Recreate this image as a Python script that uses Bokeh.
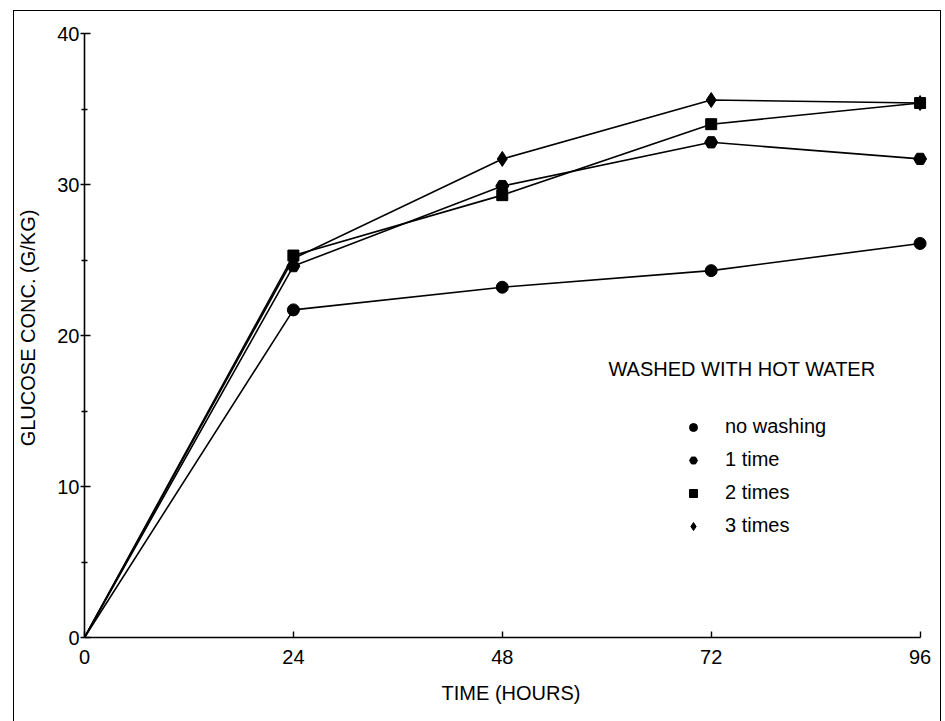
from bokeh.plotting import figure
from bokeh.models import Range1d, FixedTicker, Legend, LegendItem, Label, InlineStyleSheet
from bokeh.embed import file_html
from bokeh.resources import INLINE

# ---- data ----
hours = [0, 24, 48, 72, 96]
no_washing = [0, 21.7, 23.2, 24.3, 26.1]
one_time = [0, 24.6, 29.9, 32.8, 31.7]
two_times = [0, 25.3, 29.3, 34.0, 35.4]
three_times = [0, 25.1, 31.7, 35.6, 35.4]

series_names = ["no washing", "1 time", "2 times", "3 times"]
x_ticks = [0, 24, 48, 72, 96]
y_ticks = [0, 10, 20, 30, 40]

FONT = "Liberation Sans, Arial, sans-serif"

frame_css = InlineStyleSheet(css="""
:host { position: relative; }
:host::after {
  content: "";
  position: absolute;
  left: 13px; top: 10px; right: 4px; bottom: -20px;
  border: 1.5px solid black;
  pointer-events: none;
}
""")

p = figure(width=945, height=721, output_backend="svg", toolbar_location=None,
           x_range=Range1d(0, 98), y_range=Range1d(0, 41),
           min_border_left=84, min_border_right=8, min_border_top=18, min_border_bottom=84)
p.stylesheets = [frame_css]
p.outline_line_color = None
p.grid.visible = False
p.background_fill_color = "white"
p.border_fill_color = "white"

# axes
xa = p.xaxis[0]
xa.ticker = FixedTicker(ticks=x_ticks)
xa.bounds = (0, 96)
xa.axis_label = "TIME (HOURS)"
xa.major_tick_in = 6
xa.major_tick_out = 0
xa.minor_tick_line_color = None
xa.major_label_standoff = 12

ya = p.yaxis[0]
ya.ticker = FixedTicker(ticks=y_ticks, minor_ticks=[5, 15, 25, 35])
ya.bounds = (0, 40)
ya.axis_label = "GLUCOSE CONC. (G/KG)"
ya.major_tick_in = 6
ya.major_tick_out = 4
ya.minor_tick_in = 3
ya.minor_tick_out = 3
ya.major_label_standoff = 1

for ax in (xa, ya):
    ax.axis_line_color = "black"
    ax.axis_line_width = 1.6
    ax.major_tick_line_width = 1.4
    ax.minor_tick_line_width = 1.4
    ax.major_label_text_font = FONT
    ax.major_label_text_font_size = "20px"
    ax.major_label_text_color = "black"
    ax.axis_label_text_font = FONT
    ax.axis_label_text_font_size = "20px"
    ax.axis_label_text_font_style = "normal"
    ax.axis_label_text_color = "black"
    ax.axis_label_standoff = 15

# series
specs = [
    (no_washing, "circle", 12),
    (one_time, "hex", 13),
    (two_times, "square", 11),
    (three_times, "diamond", 15),
]
items = []
for name, (vals, marker, size) in zip(series_names, specs):
    p.line(hours, vals, line_color="black", line_width=1.6)
    r = p.scatter(hours[1:], vals[1:], marker=marker, size=size,
                  fill_color="black", line_color="black")
    items.append(LegendItem(label=name, renderers=[r], index=0))

legend = Legend(items=items, location=(599, 100), orientation="vertical",
                glyph_width=20, glyph_height=20, label_height=20, spacing=10,
                label_standoff=22, padding=0, margin=0,
                label_text_font=FONT, label_text_font_size="20px",
                label_text_color="black",
                border_line_color=None, background_fill_alpha=0)
p.add_layout(legend, "center")

title = Label(x=60.2, y=17.8, text="WASHED WITH HOT WATER", text_font=FONT,
              text_font_size="20px", text_baseline="middle", text_align="left",
              text_color="black")
p.add_layout(title)

open("out.html", "w").write(file_html(p, INLINE))
